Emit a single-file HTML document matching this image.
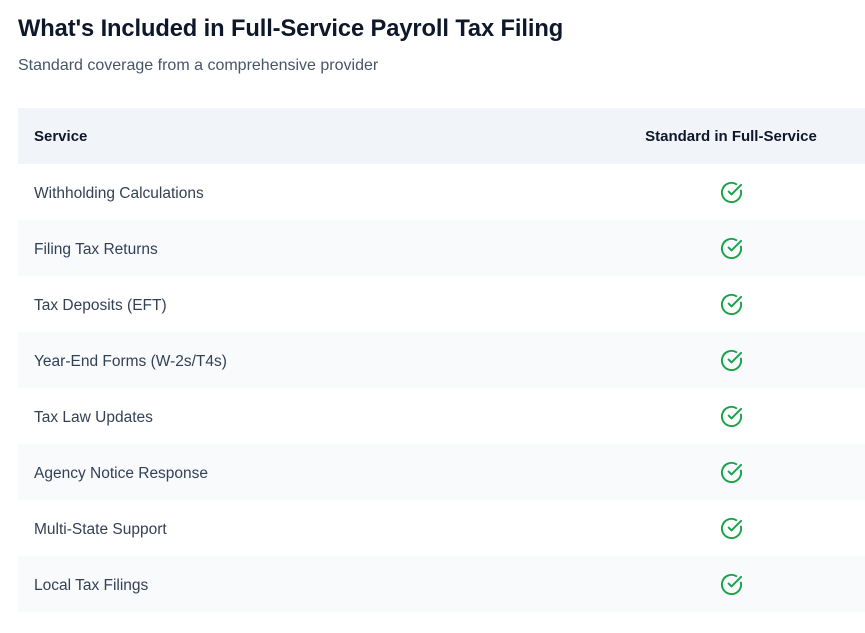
<!DOCTYPE html>
<html><head><meta charset="utf-8"><style>
body{margin:0;background:#fff;font-family:"Liberation Sans",sans-serif;color:#1e293b;width:865px;height:633px;overflow:hidden}
h1{position:absolute;left:18px;top:16px;margin:0;font-size:23.7px;font-weight:bold;color:#0f172a;letter-spacing:-0.1px}
.sub{position:absolute;left:18px;top:57px;font-size:16px;color:#475569}
table{position:absolute;left:18px;top:108px;border-collapse:collapse;width:847px}
th,td{height:56px;padding:0 16px;text-align:left}
th{background:#f1f5f9;font-weight:bold;color:#0f172a;font-size:15px}
td{color:#334155;font-size:15.5px;padding-top:3px;box-sizing:border-box}
tr:nth-child(even) td{background:#f8fafc}
.c{width:236px;text-align:center}
td.c{padding-top:0}
svg{display:block;margin:0 auto}
</style></head><body>
<h1>What's Included in Full-Service Payroll Tax Filing</h1>
<div class="sub">Standard coverage from a comprehensive provider</div>
<table>
<thead><tr><th>Service</th><th class="c">Standard in Full-Service</th></tr></thead>
<tbody>
<tr><td>Withholding Calculations</td><td class="c"><svg width="23" height="23" viewBox="0 0 24 24" fill="none" stroke="#16a34a" stroke-width="2" stroke-linecap="round" stroke-linejoin="round"><path d="M21.8 10A10 10 0 1 1 17 3.3"/><path d="m9 11 3 3L22 4"/></svg></td></tr>
<tr><td>Filing Tax Returns</td><td class="c"><svg width="23" height="23" viewBox="0 0 24 24" fill="none" stroke="#16a34a" stroke-width="2" stroke-linecap="round" stroke-linejoin="round"><path d="M21.8 10A10 10 0 1 1 17 3.3"/><path d="m9 11 3 3L22 4"/></svg></td></tr>
<tr><td>Tax Deposits (EFT)</td><td class="c"><svg width="23" height="23" viewBox="0 0 24 24" fill="none" stroke="#16a34a" stroke-width="2" stroke-linecap="round" stroke-linejoin="round"><path d="M21.8 10A10 10 0 1 1 17 3.3"/><path d="m9 11 3 3L22 4"/></svg></td></tr>
<tr><td>Year-End Forms (W-2s/T4s)</td><td class="c"><svg width="23" height="23" viewBox="0 0 24 24" fill="none" stroke="#16a34a" stroke-width="2" stroke-linecap="round" stroke-linejoin="round"><path d="M21.8 10A10 10 0 1 1 17 3.3"/><path d="m9 11 3 3L22 4"/></svg></td></tr>
<tr><td>Tax Law Updates</td><td class="c"><svg width="23" height="23" viewBox="0 0 24 24" fill="none" stroke="#16a34a" stroke-width="2" stroke-linecap="round" stroke-linejoin="round"><path d="M21.8 10A10 10 0 1 1 17 3.3"/><path d="m9 11 3 3L22 4"/></svg></td></tr>
<tr><td>Agency Notice Response</td><td class="c"><svg width="23" height="23" viewBox="0 0 24 24" fill="none" stroke="#16a34a" stroke-width="2" stroke-linecap="round" stroke-linejoin="round"><path d="M21.8 10A10 10 0 1 1 17 3.3"/><path d="m9 11 3 3L22 4"/></svg></td></tr>
<tr><td>Multi-State Support</td><td class="c"><svg width="23" height="23" viewBox="0 0 24 24" fill="none" stroke="#16a34a" stroke-width="2" stroke-linecap="round" stroke-linejoin="round"><path d="M21.8 10A10 10 0 1 1 17 3.3"/><path d="m9 11 3 3L22 4"/></svg></td></tr>
<tr><td>Local Tax Filings</td><td class="c"><svg width="23" height="23" viewBox="0 0 24 24" fill="none" stroke="#16a34a" stroke-width="2" stroke-linecap="round" stroke-linejoin="round"><path d="M21.8 10A10 10 0 1 1 17 3.3"/><path d="m9 11 3 3L22 4"/></svg></td></tr>
</tbody></table>
</body></html>
